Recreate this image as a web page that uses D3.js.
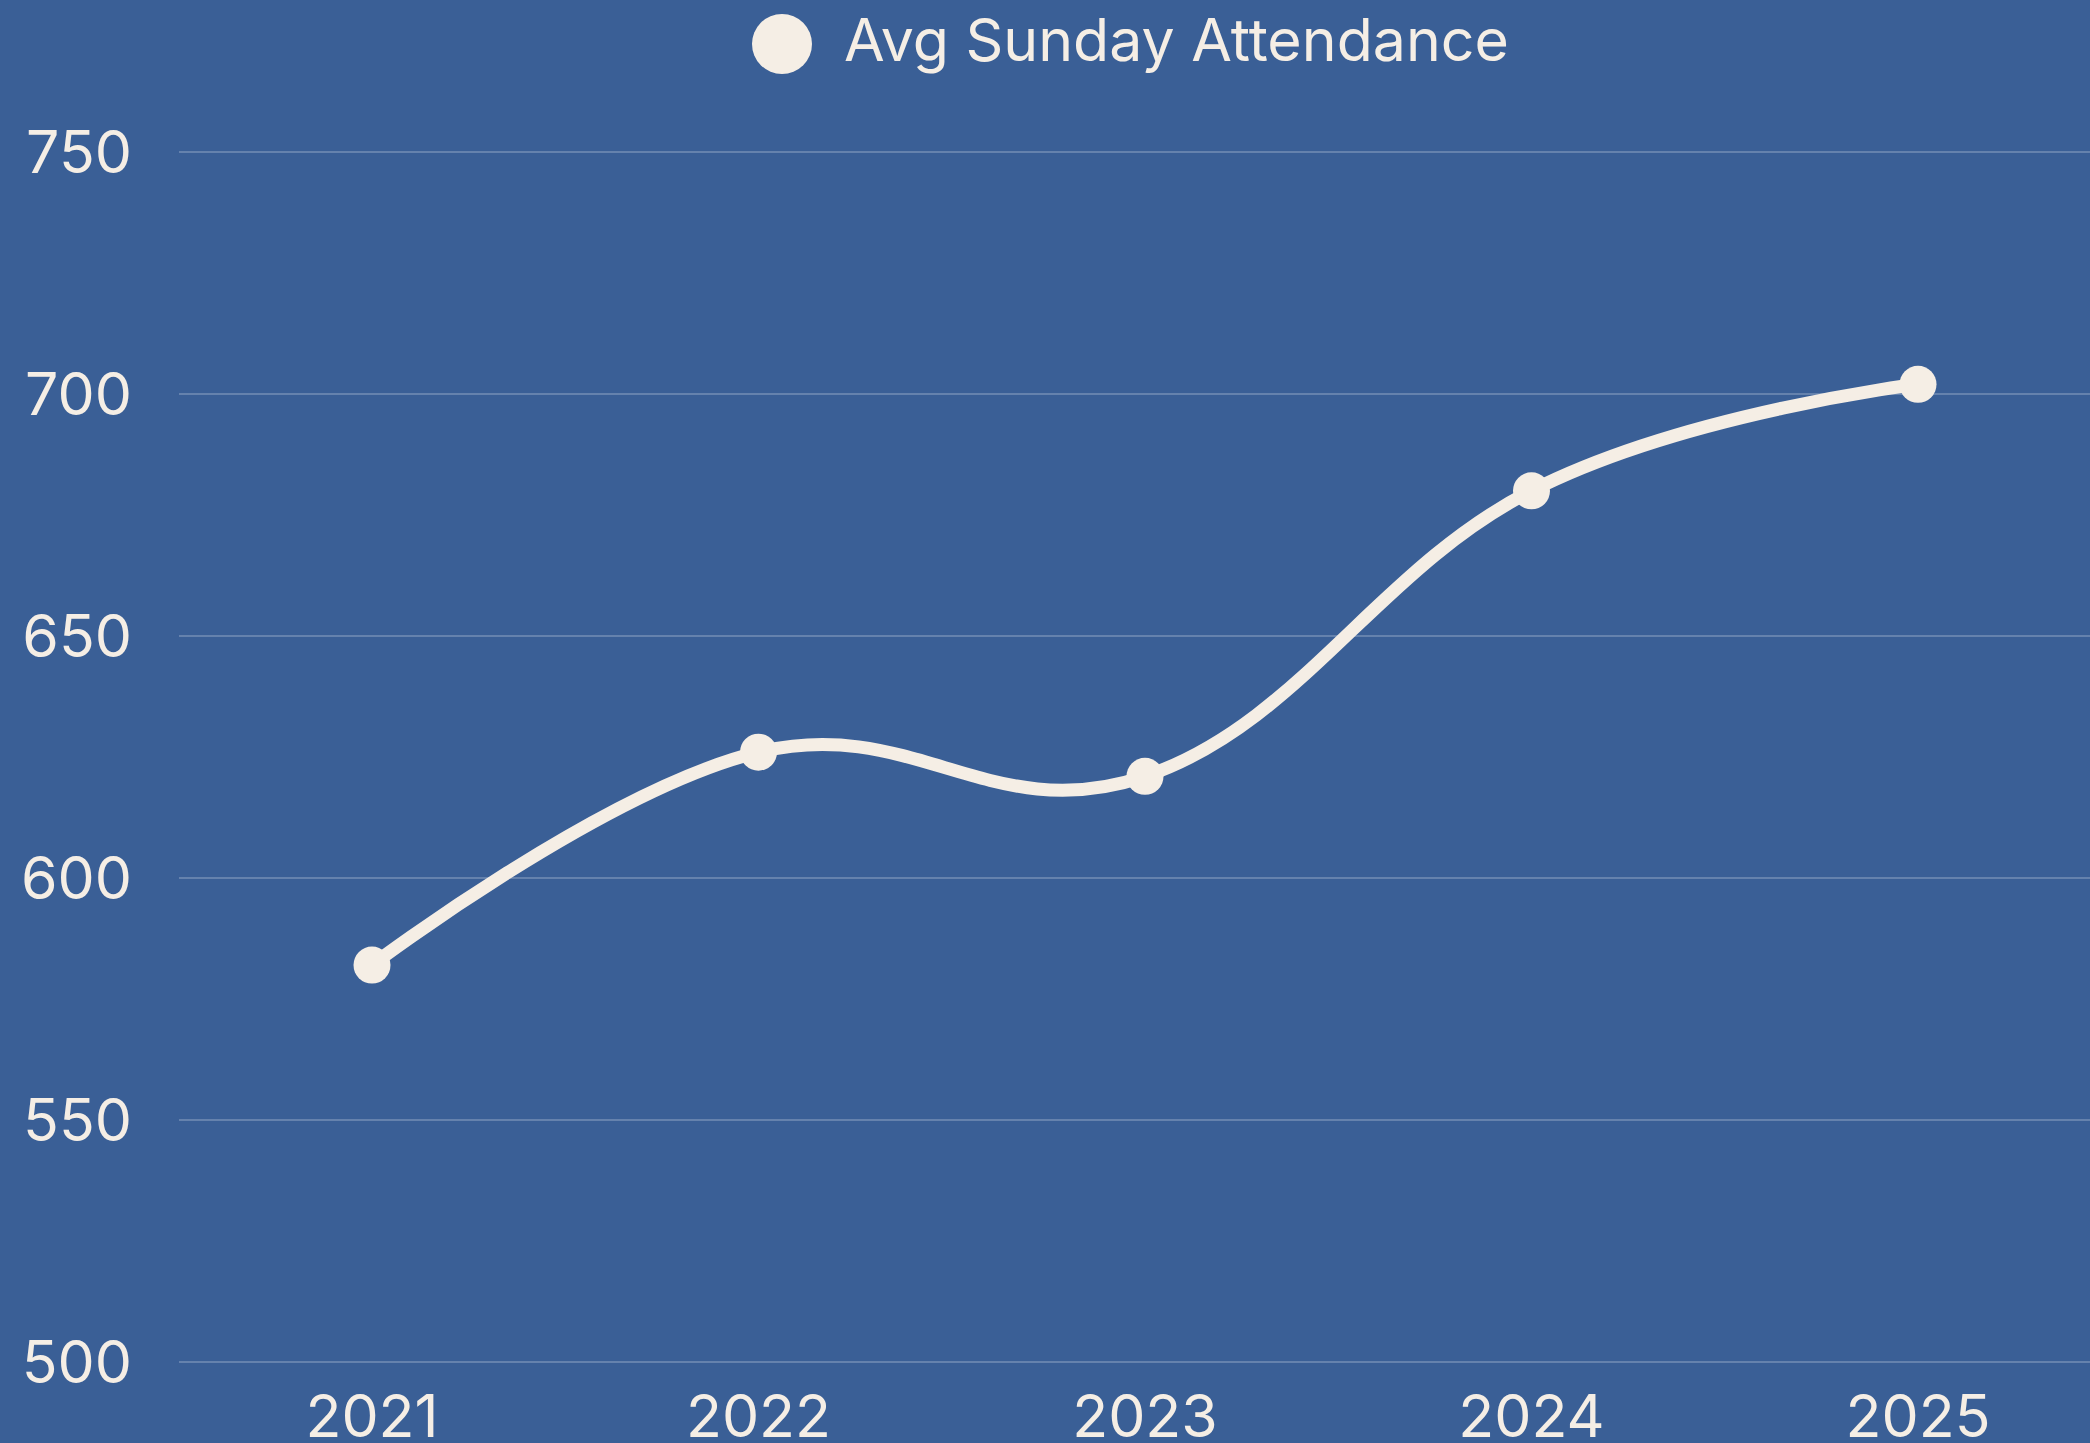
<!DOCTYPE html>
<html>
<head>
<meta charset="utf-8">
<script src="https://cdn.jsdelivr.net/npm/d3@7"></script>
<style>
  html, body { margin: 0; padding: 0; background: #3a5f96; }
  svg { display: block; }
  text { font-variant-numeric: proportional-nums; }
</style>
</head>
<body>
<script>
const years = ["2021", "2022", "2023", "2024", "2025"];
const attendance = [582, 626, 621, 680, 702];
const yTicks = [500, 550, 600, 650, 700, 750];
const seriesName = "Avg Sunday Attendance";

const width = 2090;
const height = 1443;
const bg = "#3a5f96";
const cream = "#f5eee5";
const font = "Inter, 'Noto Sans', sans-serif";
const fontSize = 59;

const svg = d3.select("body").append("svg")
    .attr("width", width)
    .attr("height", height);

svg.append("rect")
    .attr("width", width)
    .attr("height", height)
    .attr("fill", bg);

const x = d3.scalePoint()
    .domain(years)
    .range([372, 1918]);

const y = d3.scaleLinear()
    .domain([500, 750])
    .range([1362, 152]);

// grid lines
svg.append("g")
    .selectAll("line")
    .data(yTicks)
    .join("line")
    .attr("x1", 179)
    .attr("x2", width)
    .attr("y1", d => y(d))
    .attr("y2", d => y(d))
    .attr("stroke", "rgba(255,255,255,0.22)")
    .attr("stroke-width", 2);

// y labels
svg.append("g")
    .selectAll("text")
    .data(yTicks)
    .join("text")
    .attr("x", 132)
    .attr("y", d => y(d))
    .attr("dy", "0.36em")
    .attr("text-anchor", "end")
    .attr("fill", cream)
    .attr("font-family", font)
    .attr("font-size", fontSize)
    .text(d => d);

// x labels
svg.append("g")
    .selectAll("text")
    .data(years)
    .join("text")
    .attr("x", d => x(d))
    .attr("y", 1437)
    .attr("text-anchor", "middle")
    .attr("fill", cream)
    .attr("font-family", font)
    .attr("font-size", fontSize)
    .text(d => d);

const line = d3.line()
    .x((d, i) => x(years[i]))
    .y(d => y(d))
    .curve(d3.curveCardinal.tension(-0.2));

svg.append("path")
    .datum(attendance)
    .attr("d", line)
    .attr("fill", "none")
    .attr("stroke", cream)
    .attr("stroke-width", 13);

svg.append("g")
    .selectAll("circle")
    .data(attendance)
    .join("circle")
    .attr("cx", (d, i) => x(years[i]))
    .attr("cy", d => y(d))
    .attr("r", 18.5)
    .attr("fill", cream);

// legend
svg.append("circle")
    .attr("cx", 782)
    .attr("cy", 44)
    .attr("r", 30)
    .attr("fill", cream);

svg.append("text")
    .attr("x", 844)
    .attr("y", 61)
    .attr("fill", cream)
    .attr("font-family", font)
    .attr("font-size", fontSize)
    .text(seriesName);
</script>
</body>
</html>
